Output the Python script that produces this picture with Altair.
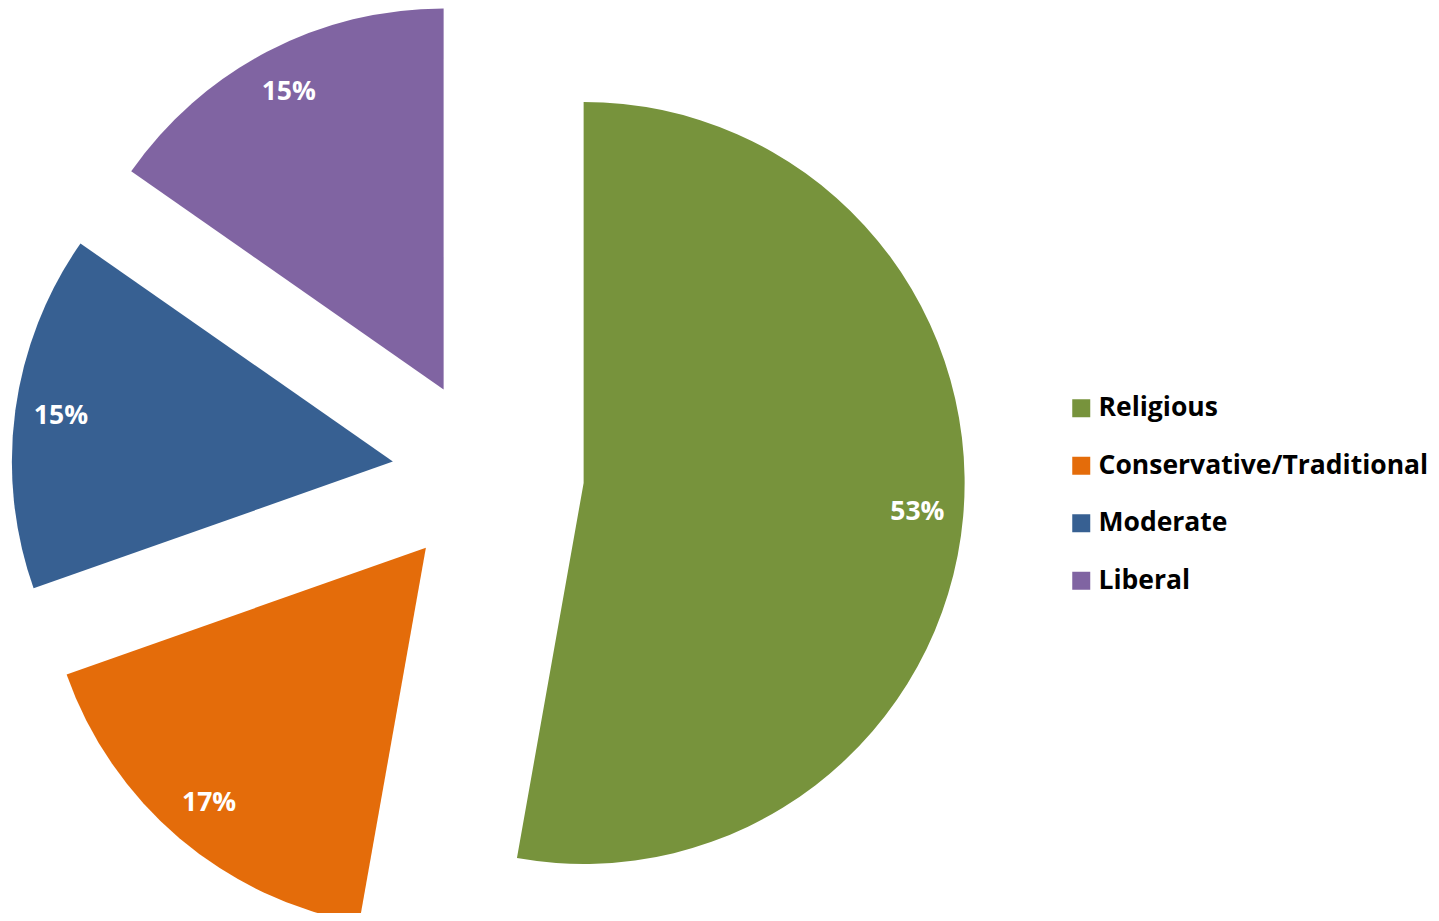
import altair as alt
import pandas as pd

categories = ["Religious", "Conservative/Traditional", "Moderate", "Liberal"]
values = [52.8, 16.8, 15.1, 15.3]
labels = ["53%", "17%", "15%", "15%"]
colors = ["#77933C", "#E46C0A", "#376092", "#8064A2"]

df = pd.DataFrame({
    "category": categories,
    "value": values,
    "label": labels,
    "order": list(range(len(categories))),
})

CX, CY = 480, 466.5   # pie centre in chart pixels
EXPLODE = 96
R = 381
LR = 335
FONT = "Open Sans"
FS = 26.5

base = alt.Chart(df).transform_joinaggregate(
    total="sum(value)"
).transform_window(
    cum="sum(value)", sort=[alt.SortField("order", order="ascending")], frame=[None, 0]
).transform_calculate(
    start="(datum.cum - datum.value) / datum.total * 2 * PI",
    end="datum.cum / datum.total * 2 * PI",
).transform_calculate(
    mid="(datum.start + datum.end) / 2"
).transform_calculate(
    cx=f"{CX} + {EXPLODE} * sin(datum.mid)",
    cy=f"{CY} - {EXPLODE} * cos(datum.mid)",
).transform_calculate(
    lx=f"datum.cx + {LR} * sin(datum.mid)",
    ly=f"datum.cy - {LR} * cos(datum.mid)",
)

color = alt.Color(
    "category:N",
    scale=alt.Scale(domain=categories, range=colors),
    sort=categories,
    legend=alt.Legend(
        title=None,
        orient="none",
        legendX=1060,
        legendY=387,
        symbolType="square",
        symbolSize=324,
        symbolStrokeWidth=0,
        labelFont=FONT,
        labelFontWeight="bold",
        labelFontSize=FS,
        labelColor="#000000",
        labelOffset=4,
        rowPadding=30.5,
        labelLimit=600,
    ),
)

arcs = base.mark_arc(outerRadius=R, stroke=None).encode(
    x=alt.X("cx:Q", scale=None),
    y=alt.Y("cy:Q", scale=None),
    theta=alt.Theta("start:Q", scale=None),
    theta2="end:Q",
    color=color,
)

texts = base.mark_text(
    font=FONT, fontWeight="bold", fontSize=FS, color="white",
    align="center", baseline="middle",
).encode(
    x=alt.X("lx:Q", scale=None),
    y=alt.Y("ly:Q", scale=None),
    text="label:N",
)

chart = alt.layer(arcs, texts).properties(
    width=1423, height=905,
    autosize=alt.AutoSizeParams(type="none"),
    padding=0,
).configure_view(stroke=None, strokeWidth=0)

chart.save("out.html", embed_options={"renderer": "svg", "actions": False})
